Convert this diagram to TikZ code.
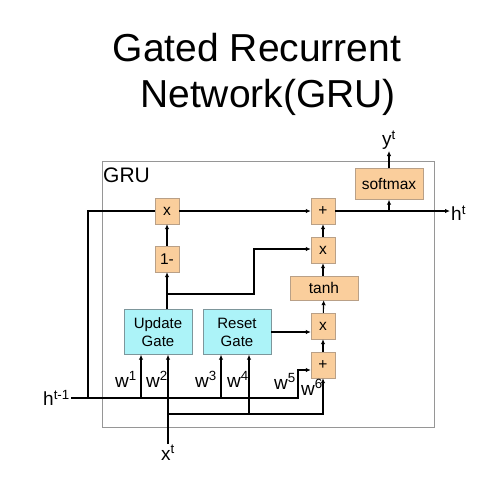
\documentclass[tikz,border=0pt]{standalone}
\usepackage{fontspec}
\setmainfont{Liberation Sans}
\usepackage{tikz}
\usetikzlibrary{arrows.meta, positioning}

\definecolor{opfill}{RGB}{250,206,156}
\definecolor{opline}{RGB}{185,160,135}
\definecolor{gatefill}{RGB}{172,243,248}
\definecolor{gateline}{RGB}{125,150,155}
\definecolor{frameline}{RGB}{150,150,150}

\begin{document}
\begin{tikzpicture}[
      x=1pt, y=-1pt,
      op/.style={rectangle, draw=opline, fill=opfill, minimum width=24pt, minimum height=26pt, inner sep=0pt, font=\fontsize{15.5}{17}\selectfont},
      wideop/.style={op, minimum width=68pt, minimum height=24pt},
      gate/.style={rectangle, draw=gateline, fill=gatefill, minimum width=68pt, minimum height=45pt, inner sep=0pt, align=center, font=\fontsize{15}{18}\selectfont},
      lbl/.style={font=\fontsize{19}{21}\selectfont, inner sep=1pt},
      arrow/.style={-{Latex[length=5pt, width=4.5pt]}, line width=1.1pt},
      wire/.style={line width=1.1pt}
    ]
    \useasboundingbox (0,0) rectangle (503,483);

    % Title
    \node[anchor=base, font=\fontsize{39}{46}\selectfont] (title1) at (257,61) {Gated Recurrent};
    \node[anchor=base, font=\fontsize{39}{46}\selectfont] (title2) at (268,107) {Network(GRU)};

    % GRU frame
    \draw[frameline, line width=1pt] (102,161) rectangle (434,427);
    \node[anchor=base west, font=\fontsize{21}{24}\selectfont, inner sep=0pt] (gru) at (103,182) {GRU};

    % Operations
    \node[op] (mx1) at (167,211) {x};
    \node[op] (one) at (167,259) {1-};
    \node[op] (add1) at (323,211) {+};
    \node[op] (mx2) at (323,250) {x};
    \node[wideop] (tanh) at (324,288) {tanh};
    \node[wideop, minimum height=31pt] (soft) at (389,184) {softmax};
    \node[op] (mx3) at (323,326) {x};
    \node[op] (add2) at (323,365) {+};

    % Gates
    \node[gate] (upd) at (158,332) {Update\\Gate};
    \node[gate] (rst) at (237,332) {Reset\\Gate};

    % Inputs and outputs
    \node[lbl, anchor=east] (htm1) at (71,398) {h\textsuperscript{t-1}};
    \node[lbl, anchor=north] (xt) at (168,444) {x\textsuperscript{t}};
    \node[lbl, anchor=west] (ht) at (450,213) {h\textsuperscript{t}};
    \node[lbl, anchor=south] (yt) at (389,151) {y\textsuperscript{t}};

    % Weight labels
    \node[lbl, anchor=base west, inner sep=0pt] (w1) at (115,387) {w\textsuperscript{1}};
    \node[lbl, anchor=base west, inner sep=0pt] (w2) at (146,387) {w\textsuperscript{2}};
    \node[lbl, anchor=base west, inner sep=0pt] (w3) at (195,387) {w\textsuperscript{3}};
    \node[lbl, anchor=base west, inner sep=0pt] (w4) at (227,387) {w\textsuperscript{4}};
    \node[lbl, anchor=base west, inner sep=0pt] (w5) at (274,389) {w\textsuperscript{5}};
    \node[lbl, anchor=base west, inner sep=0pt] (w6) at (301,395) {w\textsuperscript{6}};

    % Branch points
    \coordinate (hl) at (88,398);
    \coordinate (b1) at (141,398);
    \coordinate (b3) at (221,398);
    \coordinate (b5) at (298,398);
    \coordinate (xb) at (168,414);
    \coordinate (b4) at (249,414);
    \coordinate (ub) at (167,294);

    % h(t-1) wires
    \draw[wire] (htm1.east) -- (hl);
    \draw[wire] (hl) |- (mx1.west);
    \draw[arrow] (hl) -- (b5) |- ([yshift=-5pt]add2.west);
    \draw[arrow] (b1) -- (b1 |- upd.south);
    \draw[arrow] (b3) -- (b3 |- rst.south);

    % x(t) wires
    \draw[arrow] (xt.north) -- (xt.north |- upd.south);
    \draw[arrow] (xb) -| (add2.south);
    \draw[arrow] (b4) -- (b4 |- rst.south);

    % Candidate path
    \draw[arrow] (rst.east) -- (rst.east -| mx3.west);
    \draw[arrow] (add2) -- (mx3);
    \draw[arrow] (mx3) -- (tanh);
    \draw[arrow] (tanh.north -| mx2.south) -- (mx2.south);
    \draw[arrow] (mx2) -- (add1);

    % Update path
    \draw[arrow] (one.south |- upd.north) -- (one.south);
    \draw[arrow] (one) -- (mx1);
    \draw[arrow] (ub) -- ++(87,0) |- ([yshift=1pt]mx2.west);
    \draw[arrow] (mx1) -- (add1);

    % Outputs
    \draw[arrow] (add1.east) -- (add1.east -| ht.west);
    \draw[arrow] (add1.east -| soft.south) -- (soft.south);
    \draw[arrow] (soft.north) -- (yt.south);

\end{tikzpicture}
\end{document}
